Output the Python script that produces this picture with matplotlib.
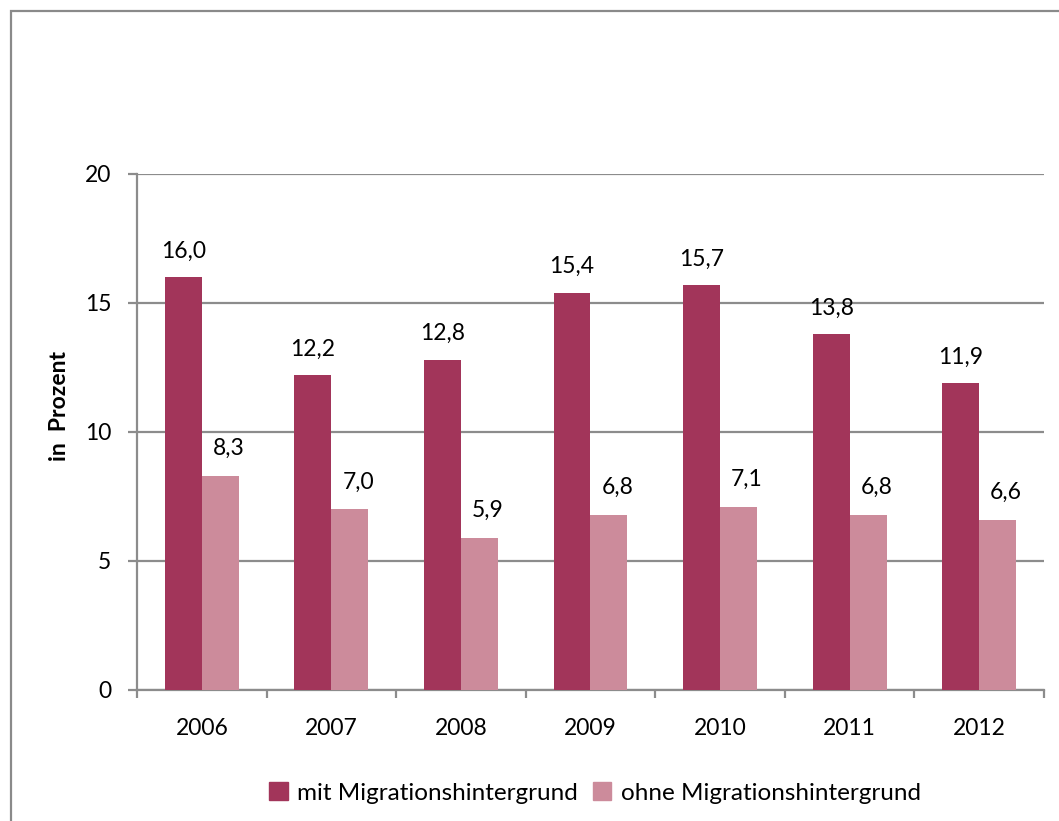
import matplotlib.pyplot as plt
import numpy as np
from matplotlib.patches import Rectangle, Patch

plt.rcParams['font.family'] = ['Lato', 'DejaVu Sans']

years = ['2006', '2007', '2008', '2009', '2010', '2011', '2012']
mit = [16.0, 12.2, 12.8, 15.4, 15.7, 13.8, 11.9]
ohne = [8.3, 7.0, 5.9, 6.8, 7.1, 6.8, 6.6]
series_names = ['mit Migrationshintergrund', 'ohne Migrationshintergrund']
y_ticks = [0, 5, 10, 15, 20]

DARK = '#a2355a'
LIGHT = '#cc8b9b'
GRID = '#8c8c8c'


def fmt(v):
    # deutsche Dezimalschreibweise
    return f'{v:.1f}'.replace('.', ',')


fig = plt.figure(figsize=(10.59, 8.21), dpi=100)
ax = fig.add_axes([0.1294, 0.1596, 0.8564, 0.6285])

# Rahmen um das Diagramm (rechts/unten abgeschnitten)
frame = Rectangle((11 / 1059, -0.2), 1.2, 1 - 11 / 821 + 0.2, transform=fig.transFigure,
                  fill=False, edgecolor='#8a8a8a', linewidth=1.6, clip_on=False)
fig.patches.append(frame)

x = np.arange(len(years))
w = 0.285
b1 = ax.bar(x - w / 2, mit, w, color=DARK, zorder=3, label=series_names[0])
b2 = ax.bar(x + w / 2, ohne, w, color=LIGHT, zorder=3, label=series_names[1])

for rect, v in zip(b1, mit):
    ax.annotate(fmt(v), (rect.get_x() + rect.get_width() / 2, v), xytext=(0, 14),
                textcoords='offset points', ha='center', va='baseline', fontsize=16.5)
for rect, v in zip(b2, ohne):
    ax.annotate(fmt(v), (rect.get_x() + rect.get_width() / 2, v), xytext=(6, 15),
                textcoords='offset points', ha='center', va='baseline', fontsize=16.5)

ax.set_xlim(-0.5, len(years) - 0.5)
ax.set_ylim(0, 20)
ax.set_yticks(y_ticks)
ax.set_xticks(x)
ax.set_xticklabels(years)
ax.set_xticks(np.arange(len(years) + 1) - 0.5, minor=True)

ax.tick_params(axis='x', which='major', length=0, pad=20, labelsize=16.5)
ax.tick_params(axis='x', which='minor', length=6, width=1.6, color=GRID, direction='out')
ax.tick_params(axis='y', length=6.5, width=1.6, color=GRID, pad=12, labelsize=16.5)

ax.yaxis.grid(True, color=GRID, linewidth=1.6, zorder=0)
ax.set_axisbelow(True)
for s in ['top', 'right']:
    ax.spines[s].set_visible(False)
for s in ['left', 'bottom']:
    ax.spines[s].set_color(GRID)
    ax.spines[s].set_linewidth(1.6)

ax.set_ylabel('in  Prozent', fontsize=16.5, fontweight='bold')
ax.yaxis.set_label_coords(-0.074, 0.55)

handles = [Patch(color=DARK), Patch(color=LIGHT)]
fig.legend(handles, series_names, loc='center', bbox_to_anchor=(595 / 1059, 1 - 793 / 821),
           ncol=2, frameon=False, fontsize=17.5, handlelength=0.75, handleheight=0.75,
           handletextpad=0.4, columnspacing=0.6)

fig.savefig('out.png', dpi=100)
